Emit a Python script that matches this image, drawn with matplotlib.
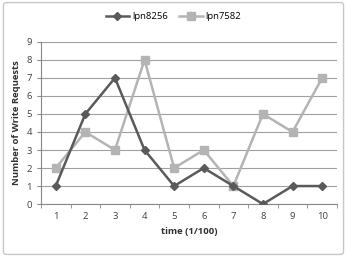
import matplotlib.pyplot as plt
import numpy as np
from matplotlib.patches import FancyBboxPatch

# data
times = [1, 2, 3, 4, 5, 6, 7, 8, 9, 10]
lpn8256 = [1, 5, 7, 3, 1, 2, 1, 0, 1, 1]
lpn7582 = [2, 4, 3, 8, 2, 3, 1, 5, 4, 7]

plt.rcParams['font.family'] = ['Open Sans', 'DejaVu Sans']

fig = plt.figure(figsize=(3.47, 2.57), dpi=100)
# light frame round the whole chart
fig.patches.append(FancyBboxPatch((0.01, 0.01), 0.98, 0.98, boxstyle='round,pad=0,rounding_size=0.01',
                                  transform=fig.transFigure, fill=False, edgecolor='#c8c8c8', linewidth=1))
ax = fig.add_axes([0.118, 0.206, 0.853, 0.631])

ax.plot(times, lpn7582, color='#b4b4b4', marker='s', markersize=5.5, linewidth=1.8, label='lpn7582', zorder=3)
ax.plot(times, lpn8256, color='#5a5a5a', marker='D', markersize=4, linewidth=1.8, label='lpn8256', zorder=4)

ax.set_xlim(0.5, 10.5)
ax.set_ylim(0, 9)
ax.set_yticks(range(0, 10))
ax.set_xticks(times)
ax.set_xticks(np.arange(0.5, 11, 1), minor=True)
ax.tick_params(axis='x', which='major', length=0, labelsize=6.8, colors='#404040', pad=6)
ax.tick_params(axis='x', which='minor', length=3, color='#888888', direction='out')
ax.tick_params(axis='y', length=3, color='#888888', labelsize=6.8, labelcolor='#404040')
ax.grid(axis='y', color='#a0a0a0', linewidth=0.8)
for s in ['top', 'right']:
    ax.spines[s].set_visible(False)
for s in ['left', 'bottom']:
    ax.spines[s].set_color('#888888')

ax.set_xlabel('time (1/100)', fontsize=6.8, fontweight='bold', color='#303030', labelpad=4)
ax.set_ylabel('Number of Write Requests', fontsize=6.8, fontweight='bold', color='#303030', labelpad=4)

h, l = ax.get_legend_handles_labels()
fig.legend(h[::-1], l[::-1], loc='center', bbox_to_anchor=(0.5, 0.935), ncol=2, frameon=False,
           fontsize=6.8, handlelength=2.5, columnspacing=1.2, handletextpad=0.3)

fig.savefig('out.png', dpi=100)
